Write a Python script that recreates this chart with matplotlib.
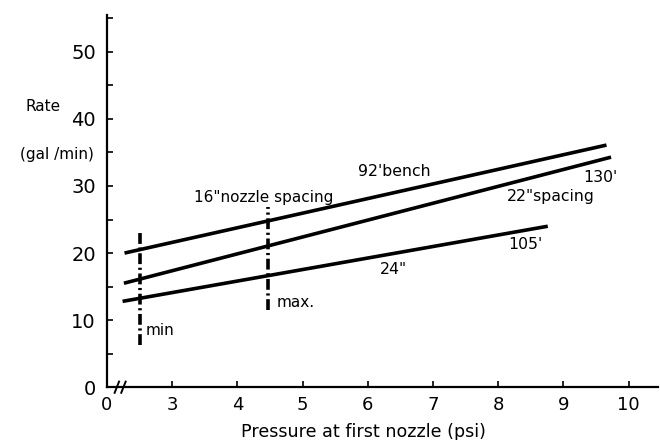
import matplotlib
matplotlib.use("Agg")
import matplotlib.pyplot as plt

# Data
bench_x = [2.27, 9.66]
bench_y = [20.0, 36.1]
spacing22_x = [2.26, 9.73]
spacing22_y = [15.5, 34.3]
spacing24_x = [2.24, 8.76]
spacing24_y = [12.8, 24.0]
min_x = 2.5
min_range = [6.3, 23.1]
max_x = 4.47
max_range = [11.5, 26.9]

xticks = [2, 3, 4, 5, 6, 7, 8, 9, 10]
xticklabels = ["0", "3", "4", "5", "6", "7", "8", "9", "10"]
yticks = [0, 10, 20, 30, 40, 50]
yticklabels = ["0", "10", "20", "30", "40", "50"]

plt.rcParams['font.family'] = ['DejaVu Sans']

fig = plt.figure(figsize=(6.6, 4.4), dpi=100)
ax = fig.add_axes([0.162, 0.12, 0.835, 0.846])

lw = 2.6
ax.plot(bench_x, bench_y, color="black", lw=lw, solid_capstyle="butt")
ax.plot(spacing22_x, spacing22_y, color="black", lw=lw, solid_capstyle="butt")
ax.plot(spacing24_x, spacing24_y, color="black", lw=lw, solid_capstyle="butt")

ax.plot([min_x, min_x], min_range, color="black", lw=2.6, linestyle=(0, (3, 1.0, 0.6, 1.0)))
ax.plot([max_x, max_x], max_range, color="black", lw=2.6, linestyle=(0, (3, 1.0, 0.6, 1.0)))

ax.set_xlim(2, 10.45)
ax.set_ylim(0, 55.5)

for s in ["top", "right"]:
    ax.spines[s].set_visible(False)
ax.spines["left"].set_linewidth(1.6)
ax.spines["bottom"].set_linewidth(1.6)

ax.set_xticks(xticks)
ax.set_xticklabels(xticklabels, fontsize=13)
ax.set_yticks(yticks)
ax.set_yticklabels(yticklabels, fontsize=14)
ax.set_yticks([5, 15, 25, 35, 45, 55], minor=True)
ax.tick_params(axis="both", which="both", direction="in", length=4, width=1.2)
ax.tick_params(axis="y", pad=8)
ax.tick_params(axis="x", pad=6)

# axis break marks
for dx in [0.014, 0.026]:
    ax.plot([dx, dx + 0.008], [-0.015, 0.015], transform=ax.transAxes,
            color="black", lw=1.4, clip_on=False)

ax.set_xlabel("Pressure at first nozzle (psi)", fontsize=12.6, va="center")
ax.xaxis.set_label_coords(0.466, -0.12)

fig.text(0.038, 0.757, "Rate", fontsize=11, ha="left", va="center")
fig.text(0.03, 0.648, "(gal /min)", fontsize=11, ha="left", va="center")

ax.text(4.41, 28.3, "16\"nozzle spacing", fontsize=11, ha="center", va="center")
ax.text(6.41, 32.1, "92'bench", fontsize=11.3, ha="center", va="center")
ax.text(9.56, 31.3, "130'", fontsize=11.3, ha="center", va="center")
ax.text(8.8, 28.5, "22\"spacing", fontsize=11.3, ha="center", va="center")
ax.text(6.4, 17.5, "24\"", fontsize=11.3, ha="center", va="center")
ax.text(8.41, 21.3, "105'", fontsize=11.3, ha="center", va="center")
ax.text(2.6, 8.5, "min", fontsize=11, ha="left", va="center")
ax.text(4.6, 12.7, "max.", fontsize=11, ha="left", va="center")

fig.savefig("out.png", dpi=100)
